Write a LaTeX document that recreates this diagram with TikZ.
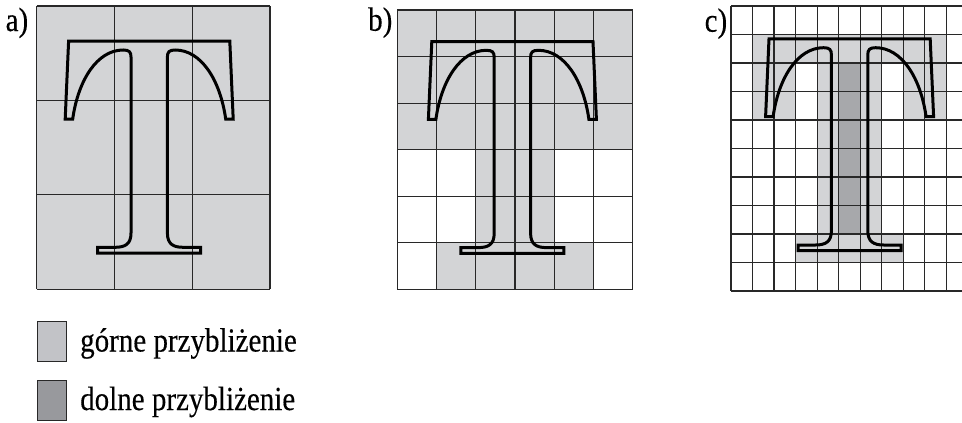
\documentclass[tikz,border=0pt]{standalone}
\usepackage{fontspec}
\setmainfont{Liberation Serif}
\newfontfamily\legfont{Liberation Serif}[FakeBold=0.3]
\definecolor{panelLight}{RGB}{211,212,214}
\definecolor{panelDark}{RGB}{167,168,171}
\definecolor{legLight}{RGB}{194,195,199}
\definecolor{legDark}{RGB}{152,153,157}
\definecolor{gridInk}{RGB}{40,40,40}
\tikzset{
  gridline/.style={draw=gridInk, line width=1.2pt},
  tshape/.style={draw=black, line width=3pt, line join=miter},
  lbl/.style={anchor=base west, inner sep=0pt, font=\legfont\fontsize{29}{34}\selectfont},
  legbox/.style={draw=gridInk, line width=1.3pt, minimum width=29pt, minimum height=39.5pt, inner sep=0pt},
  Tletter/.pic={
    \draw[tshape] (-80.6,41.2) -- (80.6,41.2) -- (84,119) -- (76.5,119)
      .. controls (71,80) and (52,50) .. (26,50)
      .. controls (20,50) and (18.2,52) .. (18.2,57) -- (18.2,233)
      .. controls (18.2,244) and (24,247.3) .. (34,247.3)
      -- (51.5,247.3) -- (51.5,253) -- (-51.5,253) -- (-51.5,247.3) -- (-34,247.3)
      .. controls (-24,247.3) and (-18.2,244) .. (-18.2,233) -- (-18.2,57)
      .. controls (-18.2,52) and (-20,50) .. (-26,50)
      .. controls (-52,50) and (-71,80) .. (-76.5,119) -- (-84,119) -- cycle;
  }
}
\newcommand{\ylab}[1]{\scalebox{1}[1.16]{#1}}
\begin{document}
\begin{tikzpicture}[x=1pt,y=-1pt]
\useasboundingbox (0,0) rectangle (962,423);
\clip (0,0) rectangle (962,423);

% ---------- panel a ----------
\begin{scope}[shift={(36.7,6)}, x=77.77pt, y=-94.43pt]
  \fill[panelLight] (0,0) rectangle (3,3);
  \foreach \i in {0,...,3} {
    \draw[gridline] (\i,0) -- (\i,3);
    \draw[gridline] (0,\i) -- (3,\i);
  }
\end{scope}
\pic at (149.2,0) {Tletter};
\node[lbl] (la) at (5.5,31) {\ylab{a)}};

% ---------- panel b ----------
\begin{scope}[shift={(397.3,10)}, x=39.23pt, y=-46.55pt]
  \fill[panelLight] (0,0) rectangle (6,3);
  \fill[panelLight] (2,3) rectangle (4,5);
  \fill[panelLight] (1,5) rectangle (5,6);
  \foreach \i in {0,...,6} {
    \draw[gridline] (\i,0) -- (\i,6);
    \draw[gridline] (0,\i) -- (6,\i);
  }
\end{scope}
\pic at (512.4,0.3) {Tletter};
\node[lbl] (lb) at (368,30.7) {\ylab{b)}};

% ---------- panel c ----------
\begin{scope}[shift={(731,6)}, x=21.53pt, y=-28.5pt]
  \fill[panelLight] (1,1) rectangle (10,2);
  \fill[panelLight] (1,2) rectangle (3,4);
  \fill[panelLight] (4,2) rectangle (7,8);
  \fill[panelLight] (8,2) rectangle (10,4);
  \fill[panelLight] (3,8) rectangle (8,9);
  \fill[panelDark] (5,2) rectangle (6,8);
  \foreach \i in {0,...,11} {
    \draw[gridline] (\i,0) -- (\i,10);
  }
  \foreach \j in {0,...,10} {
    \draw[gridline] (0,\j) -- (11,\j);
  }
\end{scope}
\pic at (849.6,-2.3) {Tletter};
\node[lbl] (lc) at (704.5,31.7) {\ylab{c)}};

% ---------- legend ----------
\node[legbox, fill=legLight] (k1) at (52,341.5) {};
\node[legbox, fill=legDark] (k2) at (52,400.5) {};
\node[lbl] (t1) at (80,351.5) {\ylab{górne przybliżenie}};
\node[lbl] (t2) at (80,410) {\ylab{dolne przybliżenie}};
\end{tikzpicture}
\end{document}
